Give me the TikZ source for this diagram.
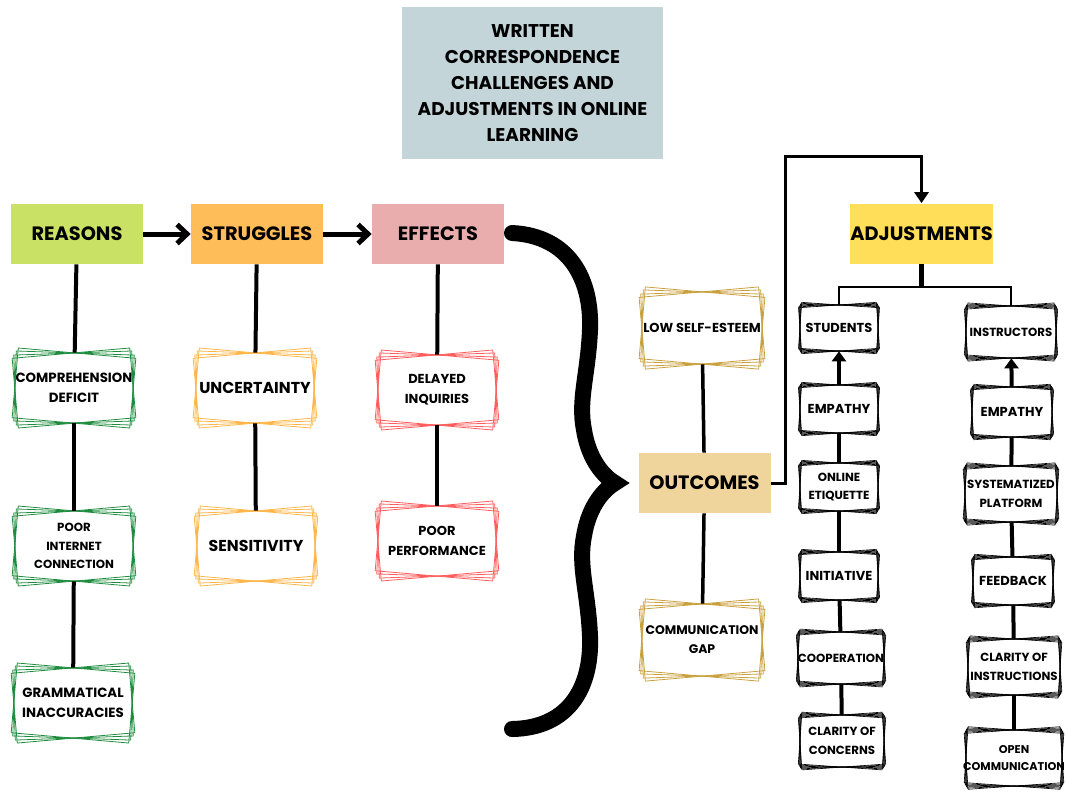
\documentclass[tikz,border=0pt]{standalone}
\usepackage{fontspec}
\setmainfont{Poppins}
\usetikzlibrary{arrows.meta}

\definecolor{titleblue}{HTML}{C4D5DA}
\definecolor{reasongreen}{HTML}{C9E265}
\definecolor{struggleorange}{HTML}{FFBD59}
\definecolor{effectpink}{HTML}{EAADAD}
\definecolor{outcomesand}{HTML}{EFD49C}
\definecolor{adjustyellow}{HTML}{FFDE59}
\definecolor{linegreen}{HTML}{1E8C3E}
\definecolor{lineorange}{HTML}{FFB547}
\definecolor{linered}{HTML}{FF5C5C}
\definecolor{linegold}{HTML}{C9A03E}

\tikzset{
  headbox/.style={rectangle, inner sep=0pt, minimum width=26.4mm, minimum height=12mm,
    font=\bfseries\fontsize{11}{13}\selectfont},
  stackbox/.style={rectangle, inner sep=0pt, align=center,
    font=\bfseries\fontsize{7.4}{11.5}\selectfont},
  bigtext/.style={font=\bfseries\fontsize{9}{11}\selectfont},
  smalltext/.style={font=\bfseries\fontsize{6.7}{10.5}\selectfont},
  stackline/.style={line width=0.45pt},
  link/.style={line width=0.8mm},
  thinlink/.style={line width=0.3mm},
}

% rotated outlines of a stacked box
\newcommand{\stackangles}{-5,-2,2,5}
\newcommand{\stacknode}[7][]{%
  \begin{scope}[shift={(#3)}]
    \foreach \ang in \stackangles
      \draw[stackline, draw=#4, rotate=\ang] (-#5/2,-#6/2) rectangle (#5/2,#6/2);
  \end{scope}
  \node[stackbox, #1, minimum width=#5*0.2mm, minimum height=#6*0.2mm] (#2) at (#3) {#7};
}

\begin{document}
\begin{tikzpicture}[x=0.02cm, y=-0.02cm]
  \useasboundingbox (0,0) rectangle (1067,792);

  % Title
  \node[fill=titleblue, minimum width=52.2mm, minimum height=30.4mm, align=center,
    font=\bfseries\fontsize{10.5}{14.7}\selectfont] (title) at (532.5,83)
    {WRITTEN\\CORRESPONDENCE\\CHALLENGES AND\\ADJUSTMENTS IN ONLINE\\LEARNING};

  % Heading boxes
  \node[headbox, fill=reasongreen] (reasons) at (77,234) {REASONS};
  \node[headbox, fill=struggleorange] (struggles) at (257,234) {STRUGGLES};
  \node[headbox, fill=effectpink] (effects) at (438,234) {EFFECTS};
  \node[headbox, fill=outcomesand] (outcomes) at (704.5,483) {OUTCOMES};
  \node[headbox, fill=adjustyellow, minimum width=28.6mm] (adjust) at (921.5,233.5) {ADJUSTMENTS};

  % Reasons column
  \stacknode[font=\bfseries\fontsize{7.6}{11.5}\selectfont]{compdef}{74,388}{linegreen}{118}{70}{COMPREHENSION\\DEFICIT}
  \stacknode[smalltext]{internet}{74,546}{linegreen}{118}{70}{POOR\\INTERNET\\CONNECTION}
  \stacknode[font=\bfseries\fontsize{7.6}{11.5}\selectfont]{grammar}{73,703}{linegreen}{118}{70}{GRAMMATICAL\\INACCURACIES}

  % Struggles column
  \stacknode[bigtext]{uncert}{255,388}{lineorange}{118}{70}{UNCERTAINTY}
  \stacknode[bigtext]{sensit}{256,546}{lineorange}{118}{70}{SENSITIVITY}

  % Effects column
  \stacknode{delayed}{437,390}{linered}{118}{70}{DELAYED\\INQUIRIES}
  \stacknode{perform}{437,541}{linered}{118}{70}{POOR\\PERFORMANCE}

  % Outcomes
  \stacknode{esteem}{702,328}{linegold}{120}{72}{LOW SELF-ESTEEM}
  \stacknode[font=\bfseries\fontsize{7.1}{10.8}\selectfont]{gap}{702,640}{linegold}{120}{72}{COMMUNICATION\\GAP}

  % Adjustments: students and instructors
  \renewcommand{\stackangles}{-4,-2.5,-1,1,2.5,4}
  \tikzset{stackline/.style={line width=0.35pt}}
  \stacknode{students}{839,328}{black}{78}{46}{STUDENTS}
  \stacknode{empstud}{839,409}{black}{78}{48}{EMPATHY}
  \stacknode[smalltext]{etiquette}{839,487}{black}{78}{48}{ONLINE\\ETIQUETTE}
  \stacknode{initiative}{839,576}{black}{78}{48}{INITIATIVE}
  \stacknode[smalltext]{cooperation}{841,658}{black}{86}{52}{COOPERATION}
  \stacknode[smalltext]{concerns}{842,741}{black}{84}{52}{CLARITY OF\\CONCERNS}

  \stacknode[smalltext]{instructors}{1011,332}{black}{90}{52}{INSTRUCTORS}
  \stacknode{empinst}{1012,412}{black}{80}{50}{EMPATHY}
  \stacknode[smalltext]{platform}{1011,494}{black}{92}{56}{SYSTEMATIZED\\PLATFORM}
  \stacknode{feedback}{1013,581}{black}{80}{48}{FEEDBACK}
  \stacknode[smalltext]{instruct}{1014,667}{black}{92}{56}{CLARITY OF\\INSTRUCTIONS}
  \stacknode[font=\bfseries\fontsize{6.4}{10}\selectfont]{opencomm}{1014,758}{black}{96}{56}{OPEN\\COMMUNICATION}

  % Arrows between headings
  \draw[line width=1mm, -{Straight Barb[length=2mm,width=3.8mm]}] (reasons) -- (struggles);
  \draw[line width=1mm, -{Straight Barb[length=2mm,width=3.8mm]}] (struggles) -- (effects);

  % Vertical links
  \draw[link] (reasons) -- (compdef);
  \draw[link] (compdef) -- (internet);
  \draw[link] (internet) -- (grammar);
  \draw[link] (struggles) -- (uncert);
  \draw[link] (uncert) -- (sensit);
  \draw[link] (effects) -- (delayed);
  \draw[link] (delayed) -- (perform);
  \draw[link, line width=0.7mm] (esteem) -- (outcomes);
  \draw[link, line width=0.7mm] (outcomes) -- (gap);

  % Brace
  \draw[line width=3.2mm, line cap=round, line join=miter]
    (512,233) .. controls (570,236) and (592,280) .. (590,330)
    .. controls (588,375) and (578,400) .. (584,430)
    .. controls (588,455) and (600,474) .. (615,483)
    .. controls (600,492) and (588,511) .. (584,536)
    .. controls (578,566) and (588,591) .. (590,636)
    .. controls (592,686) and (570,728) .. (512,729);

  % Outcomes to adjustments
  \coordinate (bendup) at (785,156);
  \draw[line width=0.6mm, line join=miter, -{Triangle[length=2.2mm,width=2.8mm]}]
    (outcomes.east) -| (bendup) -| (adjust.north);

  % Fork under adjustments
  \coordinate (fork) at (921.5,287);
  \draw[line width=1mm] (adjust) -- (fork);
  \draw[thinlink] (students.north) |- (fork) -| (instructors.north);

  % Students chain
  \draw[link, -{Triangle[length=2mm,width=2.8mm]}] (empstud) -- (students);
  \draw[link] (empstud) -- (etiquette);
  \draw[link] (etiquette) -- (initiative);
  \draw[link] (initiative) -- (cooperation);
  \draw[link] (cooperation) -- (concerns);

  % Instructors chain
  \draw[link, -{Triangle[length=2mm,width=2.8mm]}] (empinst) -- (instructors);
  \draw[link] (empinst) -- (platform);
  \draw[link] (platform) -- (feedback);
  \draw[link] (feedback) -- (instruct);
  \draw[link] (instruct) -- (opencomm);
\end{tikzpicture}
\end{document}
